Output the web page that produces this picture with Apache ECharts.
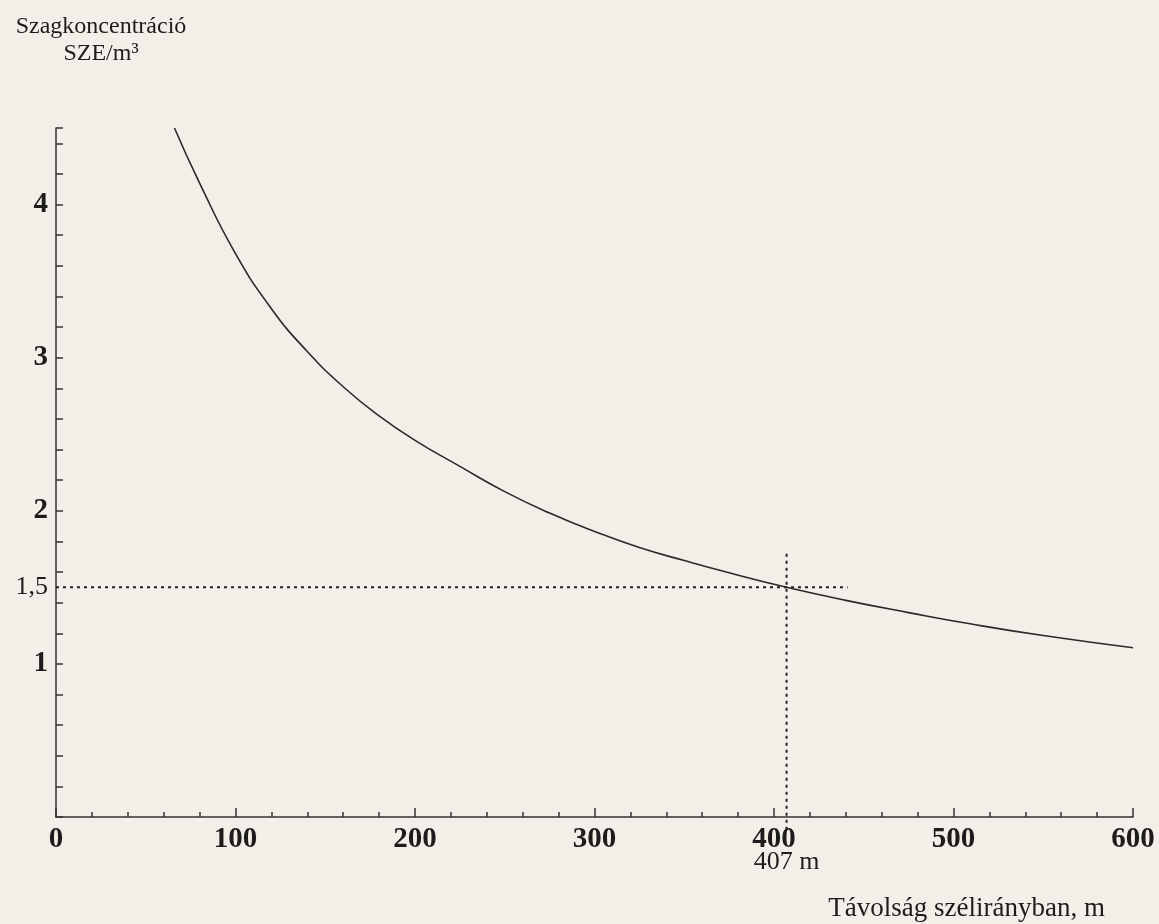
<!DOCTYPE html>
<html>
<head>
<meta charset="utf-8">
<title>Szagkoncentráció</title>
<script src="https://cdn.jsdelivr.net/npm/echarts@6/dist/echarts.min.js"></script>
<style>
  html, body { margin: 0; padding: 0; background: #f4eee8; }
  #chart { width: 1159px; height: 924px; }
</style>
</head>
<body>
<div id="chart"></div>
<script>
// távolság szélirányban (m) és szagkoncentráció (SZE/m3)
const distance = [66, 80, 100, 120, 140, 160, 180, 200, 225, 250, 275, 300, 325, 350, 375, 407, 440, 475, 510, 550, 600]
const concentration = [4.50, 4.14, 3.68, 3.32, 3.04, 2.81, 2.62, 2.46, 2.29, 2.125, 1.985, 1.865, 1.76, 1.675, 1.595, 1.50, 1.415, 1.335, 1.26, 1.185, 1.105]

// leolvasó segédvonalak
const limitValue = 1.5
const limitLabel = '1,5'
const limitDistance = 407
const limitDistanceLabel = '407 m'
const hGuideEnd = 441
const vGuideTop = 1.72
const vGuideBottom = -0.1

const serif = 'Liberation Serif'
const ink = '#1c1c1c'

const chart = echarts.init(document.getElementById('chart'))

const guideStyle = {
  color: '#222',
  width: 2,
  type: [3, 4]
}

const option = {
  backgroundColor: '#f4eee8',
  animation: false,
  title: [
    {
      text: 'Szagkoncentráció\nSZE/m³',
      left: 96,
      top: 8,
      textAlign: 'center',
      textStyle: { fontFamily: serif, fontSize: 24, fontWeight: 'normal', color: ink, lineHeight: 27 }
    },
    {
      text: 'Távolság szélirányban, m',
      right: 54,
      top: 895,
      padding: 0,
      textStyle: { fontFamily: serif, fontSize: 27, fontWeight: 'normal', color: ink }
    }
  ],
  grid: {
    left: 56,
    right: 26,
    top: 128,
    bottom: 107
  },
  xAxis: {
    type: 'value',
    min: 0,
    max: 600,
    interval: 100,
    axisLine: { lineStyle: { color: '#333', width: 1.5 } },
    axisTick: { inside: true, length: 9, lineStyle: { color: '#333', width: 1.5 } },
    minorTick: { show: true, splitNumber: 5, length: 5, lineStyle: { color: '#333', width: 1.5 } },
    splitLine: { show: false },
    axisLabel: { fontFamily: serif, fontWeight: 'bold', fontSize: 29, color: ink, margin: 8 }
  },
  yAxis: {
    type: 'value',
    min: 0,
    max: 4.5,
    interval: 0.2,
    axisLine: { show: true, lineStyle: { color: '#333', width: 1.5 } },
    axisTick: { show: true, inside: true, length: 7, lineStyle: { color: '#333', width: 1.5 } },
    splitLine: { show: false },
    axisLabel: {
      fontFamily: serif,
      fontWeight: 'bold',
      fontSize: 29,
      color: ink,
      margin: 8,
      formatter: (v) => {
        const r = Math.round(v)
        return (r > 0 && Math.abs(v - r) < 1e-6) ? String(r) : ''
      }
    }
  },
  series: [
    {
      name: 'Szagkoncentráció',
      type: 'line',
      data: distance.map((d, i) => [d, concentration[i]]),
      smooth: true,
      symbol: 'none',
      clip: false,
      lineStyle: { color: '#2a2a2a', width: 1.6 }
    },
    {
      name: 'határ',
      type: 'line',
      clip: false,
      symbolSize: 0,
      silent: true,
      lineStyle: guideStyle,
      data: [
        {
          value: [0, limitValue],
          label: { show: true, position: 'left', distance: 8, formatter: limitLabel, fontFamily: serif, fontSize: 26, color: ink }
        },
        { value: [hGuideEnd, limitValue] }
      ]
    },
    {
      name: 'távolság',
      type: 'line',
      clip: false,
      symbolSize: 0,
      silent: true,
      lineStyle: guideStyle,
      data: [
        { value: [limitDistance, vGuideTop] },
        {
          value: [limitDistance, vGuideBottom],
          label: { show: true, position: 'bottom', distance: 17, formatter: limitDistanceLabel, fontFamily: serif, fontSize: 26, color: ink }
        }
      ]
    }
  ]
}

chart.setOption(option)
</script>
</body>
</html>
